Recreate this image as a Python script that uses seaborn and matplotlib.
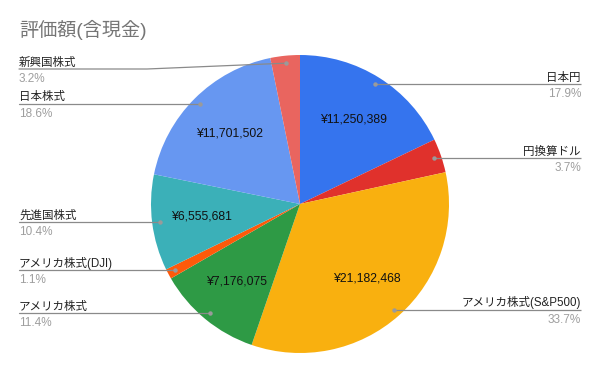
import matplotlib
matplotlib.use('Agg')
import matplotlib.pyplot as plt
import seaborn as sns
import numpy as np

# ---- data ----
categories = ['日本円', '円換算ドル', 'アメリカ株式(S&P500)', 'アメリカ株式',
              'アメリカ株式(DJI)', '先進国株式', '日本株式', '新興国株式']
values = [11250389, 2318000, 21182468, 7176075, 690000, 6555681, 11701502, 2010000]
show_value = [True, False, True, True, False, True, True, False]
colors = ['#3574ee', '#e0312c', '#f9b00f', '#2e9a45', '#fe5a0a', '#3bb0b8', '#6797f1', '#e9655f']
title = '評価額(含現金)'

# ---- layout (pixels) ----
W, H = 600, 372
label_line_override = {'新興国株式': 69}   # pixel y of leader line when shifted
bend_x = 147

sns.set_theme(style='white')
plt.rcParams['font.family'] = ['Liberation Sans', 'Noto Sans CJK JP', 'DejaVu Sans']

fig = plt.figure(figsize=(6, 3.72), dpi=100)
ax = fig.add_axes([0, 0, 1, 1])
cx, cy, R = 300, H - 204, 149
wedges, _ = ax.pie(values, colors=sns.color_palette(colors), startangle=90,
                   counterclock=False, center=(cx, cy), radius=R, frame=True,
                   wedgeprops=dict(linewidth=0))
ax.set_xlim(0, W)
ax.set_ylim(0, H)
ax.axis('off')

total = float(sum(values))
line_col = '#8a8a8a'
for w, name, v, sv in zip(wedges, categories, values, show_value):
    mid = np.deg2rad((w.theta1 + w.theta2) / 2)
    # value label inside
    if sv:
        rr = 0.67 * R
        ax.text(cx + rr * np.cos(mid), cy + rr * np.sin(mid), f'¥{v:,}',
                ha='center', va='center', fontsize=8.8, color='#111111')
    # leader dot
    dr = 0.95 * R
    dx, dy = cx + dr * np.cos(mid), cy + dr * np.sin(mid)
    ly = dy
    if name in label_line_override:
        ly = H - label_line_override[name]
    pct = f'{v / total * 100:.1f}%'
    if np.cos(mid) > 0:
        xe = 581
        ax.plot([dx, xe], [dy, ly], color=line_col, lw=0.9, solid_capstyle='butt')
        ha = 'right'
    else:
        xe = 19
        if ly != dy:
            ax.plot([xe, bend_x, dx], [ly, ly, dy], color=line_col, lw=0.9)
        else:
            ax.plot([xe, dx], [ly, dy], color=line_col, lw=0.9)
        ha = 'left'
    ax.plot([dx], [dy], 'o', color='#9a9a9a', ms=3.2, mew=0)
    ax.text(xe, ly + 3.5, name, ha=ha, va='baseline', fontsize=8.3, color='#222222')
    ax.text(xe, ly - 13, pct, ha=ha, va='baseline', fontsize=8.5, color='#9e9e9e')

ax.text(19, H - 30, title, ha='left', va='center', fontsize=13.8, color='#757575')

fig.savefig('out.png', dpi=100)
